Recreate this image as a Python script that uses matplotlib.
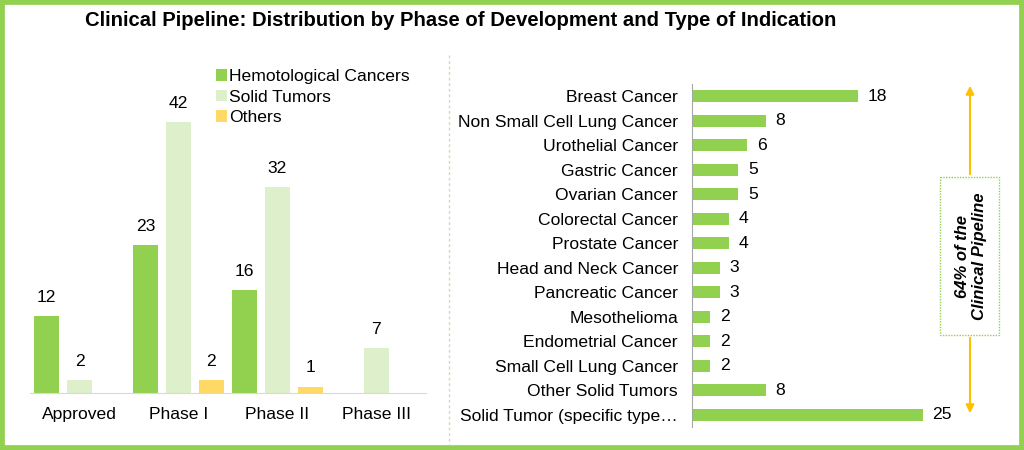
import matplotlib.pyplot as plt
from matplotlib.patches import Rectangle

plt.rcParams['font.family'] = ['Liberation Sans', 'DejaVu Sans']

# --- data ---
phases = ["Approved", "Phase I", "Phase II", "Phase III"]
hemo = [12, 23, 16, 0]
solid = [2, 42, 32, 7]
others = [0, 2, 1, 0]
series_names = ["Hemotological Cancers", "Solid Tumors", "Others"]

indications = ["Breast Cancer", "Non Small Cell Lung Cancer", "Urothelial Cancer",
               "Gastric Cancer", "Ovarian Cancer", "Colorectal Cancer",
               "Prostate Cancer", "Head and Neck Cancer", "Pancreatic Cancer",
               "Mesothelioma", "Endometrial Cancer", "Small Cell Lung Cancer",
               "Other Solid Tumors", "Solid Tumor (specific type\u2026"]
counts = [18, 8, 6, 5, 5, 4, 4, 3, 3, 2, 2, 2, 8, 25]

GREEN = "#92D050"
LIGHT = "#DDEFCB"
GOLD = "#FFD966"
ARROW = "#FFC000"
FS = 12.6

W, H = 1024, 450
fig = plt.figure(figsize=(W / 100, H / 100), dpi=100)

def px(x0, y0, x1, y1):
    # pixel box (top-left origin) -> figure fraction rect
    return [x0 / W, 1 - y1 / H, (x1 - x0) / W, (y1 - y0) / H]

# frame
fig.add_artist(Rectangle((0, 0), 1, 1, transform=fig.transFigure, fill=False,
                         edgecolor=GREEN, linewidth=7))

fig.text(461 / W, 1 - 20 / H, "Clinical Pipeline: Distribution by Phase of Development and Type of Indication",
         ha="center", va="center", fontsize=14.6, fontweight="bold")

# --- left: grouped bars ---
ax = fig.add_axes(px(30, 103, 426, 393))
x = range(len(phases))
bw = 0.26
step = 0.333
cols = [GREEN, LIGHT, GOLD]
for k, (vals, c, name) in enumerate(zip([hemo, solid, others], cols, series_names)):
    pos = [i + (k - 1) * step for i in x]
    ax.bar(pos, vals, width=bw, color=c, label=name)
    for p, v in zip(pos, vals):
        if v > 0:
            ax.annotate(str(v), (p, v), xytext=(0, 8), textcoords="offset points",
                        ha="center", va="bottom", fontsize=FS)
ax.set_xlim(-0.5, 3.5)
ax.set_ylim(0, 45)
ax.set_xticks(list(x))
ax.set_xticklabels(phases, fontsize=FS)
ax.tick_params(axis="x", length=0, pad=10)
ax.set_yticks([])
for s in ["top", "right", "left"]:
    ax.spines[s].set_visible(False)
ax.spines["bottom"].set_color("#D9D9D9")
ax.legend(loc="upper left", bbox_to_anchor=((209 - 30) / 396, 1.14), frameon=False,
          fontsize=FS, handlelength=0.65, handleheight=0.65, handletextpad=0.12,
          labelspacing=0.3, borderaxespad=0)

# separator
fig.add_artist(plt.Line2D([449 / W, 449 / W], [1 - 55 / H, 1 - 445 / H],
                          transform=fig.transFigure, color="#C5E0B4",
                          linestyle=(0, (2, 2)), linewidth=1))

# --- right: horizontal bars ---
ax2 = fig.add_axes(px(692, 84, 969, 427))
y = range(len(indications))
ax2.barh(list(y), counts, height=0.5, color=GREEN)
for yi, v in zip(y, counts):
    ax2.annotate(str(v), (v, yi), xytext=(7, 0), textcoords="offset points",
                 ha="left", va="center", fontsize=FS)
ax2.set_ylim(13.5, -0.5)
ax2.set_xlim(0, 30)
ax2.set_yticks(list(y))
ax2.set_yticklabels(indications, fontsize=FS)
ax2.tick_params(axis="y", length=0, pad=10)
ax2.set_xticks([])
for s in ["top", "right", "bottom"]:
    ax2.spines[s].set_visible(False)
ax2.spines["left"].set_color("#A6A6A6")

# arrow with annotation box
ax_f = fig.add_axes([0, 0, 1, 1], facecolor="none")
ax_f.set_xlim(0, W)
ax_f.set_ylim(H, 0)
ax_f.axis("off")
ax_f.annotate("", xy=(970, 83), xytext=(970, 177),
              arrowprops=dict(arrowstyle="-|>", color=ARROW, lw=1.5, mutation_scale=12))
ax_f.annotate("", xy=(970, 416), xytext=(970, 335),
              arrowprops=dict(arrowstyle="-|>", color=ARROW, lw=1.5, mutation_scale=12))
ax_f.add_patch(Rectangle((940, 177), 59, 158, fill=False, edgecolor=GREEN,
                         linestyle=(0, (1, 1)), linewidth=1))
ax_f.text(971, 256, "64% of the\nClinical Pipeline", rotation=90, ha="center", va="center",
          fontsize=12, fontweight="bold", fontstyle="italic", linespacing=1.15)

fig.savefig("out.png", dpi=100)
